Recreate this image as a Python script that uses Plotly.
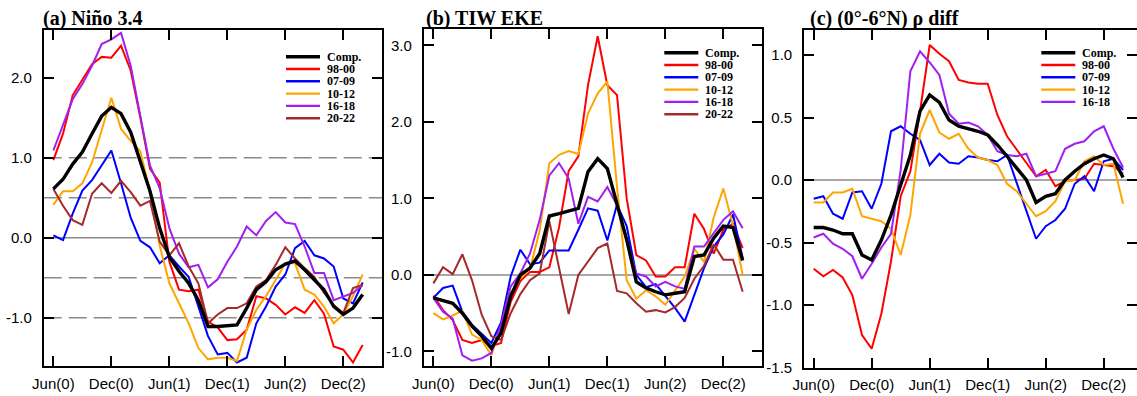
import plotly.graph_objects as go

W, H = 1137, 396

months = ["Jun(0)", "Jul(0)", "Aug(0)", "Sep(0)", "Oct(0)", "Nov(0)", "Dec(0)",
          "Jan(1)", "Feb(1)", "Mar(1)", "Apr(1)", "May(1)", "Jun(1)", "Jul(1)", "Aug(1)",
          "Sep(1)", "Oct(1)", "Nov(1)", "Dec(1)",
          "Jan(2)", "Feb(2)", "Mar(2)", "Apr(2)", "May(2)", "Jun(2)", "Jul(2)", "Aug(2)",
          "Sep(2)", "Oct(2)", "Nov(2)", "Dec(2)", "Jan(3)", "Feb(3)"]
tick_labels = ["Jun(0)", "Dec(0)", "Jun(1)", "Dec(1)", "Jun(2)", "Dec(2)"]

series_names = ["Comp.", "98-00", "07-09", "10-12", "16-18", "20-22"]
series_colors = ["#000000", "#ff0000", "#0000ff", "#ffa500", "#a020f0", "#a52a2a"]

# (a) Nino 3.4
comp_a = [0.61, 0.73, 0.92, 1.07, 1.30, 1.52, 1.63, 1.55, 1.32, 0.95, 0.58, 0.12, -0.24, -0.42, -0.57, -0.78,
          -1.11, -1.11, -1.10, -1.09, -0.88, -0.65, -0.55, -0.40, -0.33, -0.29, -0.40, -0.53, -0.65, -0.86,
          -0.96, -0.88, -0.71]
red_a = [0.97, 1.30, 1.78, 1.97, 2.17, 2.26, 2.25, 2.40, 2.09, 1.50, 0.86, 0.69, -0.30, -0.65, -0.67, -0.65,
         -1.05, -1.12, -1.28, -1.27, -1.15, -0.73, -0.76, -0.84, -0.96, -0.87, -0.94, -0.78, -0.95, -1.36,
         -1.40, -1.56, -1.34]
blue_a = [0.03, -0.03, 0.30, 0.59, 0.72, 0.90, 1.09, 0.68, 0.25, -0.04, -0.12, -0.32, -0.22, -0.36, -0.49, -0.86,
          -1.23, -1.46, -1.44, -1.56, -1.50, -1.07, -0.86, -0.61, -0.46, -0.13, -0.04, -0.22, -0.26, -0.36,
          -0.76, -0.82, -0.56]
orange_a = [0.41, 0.58, 0.58, 0.68, 0.94, 1.36, 1.75, 1.36, 1.21, 1.08, 0.57, -0.10, -0.57, -0.82, -1.07, -1.38,
            -1.52, -1.50, -1.50, -1.54, -1.15, -0.90, -0.73, -0.53, -0.32, -0.32, -0.65, -0.71, -0.86, -1.07,
            -0.96, -0.73, -0.46]
purple_a = [1.09, 1.40, 1.73, 1.92, 2.15, 2.42, 2.48, 2.56, 2.15, 1.52, 0.90, 0.62, 0.12, -0.20, -0.37, -0.34,
            -0.62, -0.52, -0.30, -0.11, 0.14, 0.03, 0.21, 0.32, 0.19, 0.17, -0.11, -0.44, -0.44, -0.78,
            -0.73, -0.69, -0.59]
brown_a = [0.61, 0.40, 0.22, 0.16, 0.55, 0.68, 0.56, 0.71, 0.57, 0.40, 0.46, -0.05, -0.22, -0.07, -0.36, -0.57,
           -1.07, -0.96, -0.88, -0.88, -0.82, -0.61, -0.53, -0.34, -0.12, -0.26, -0.38, -0.49, -0.69, -0.84,
           -0.94, -0.63, -0.59]

# (b) TIW EKE
comp_b = [-0.30, -0.33, -0.37, -0.50, -0.67, -0.80, -0.96, -0.76, -0.28, 0.00, 0.09, 0.28, 0.77, 0.80, 0.83,
          0.87, 1.35, 1.52, 1.39, 0.93, 0.46, -0.09, -0.17, -0.22, -0.26, -0.24, -0.22, 0.24, 0.26, 0.48,
          0.64, 0.62, 0.19]
red_b = [-0.27, -0.46, -0.59, -0.85, -0.89, -0.85, -0.93, -0.89, -0.35, -0.08, 0.04, 0.04, 0.10, 0.62, 1.36,
         1.55, 2.48, 3.12, 2.48, 2.35, 1.00, 0.26, 0.19, -0.02, -0.02, 0.10, 0.10, 0.80, 0.60, 0.28,
         0.59, 0.67, 0.35]
blue_b = [-0.30, -0.17, -0.14, -0.48, -0.65, -0.77, -0.89, -0.62, -0.02, 0.33, 0.14, 0.16, 0.32, 0.32, 0.32,
          0.59, 0.87, 0.84, 0.45, 0.92, 0.64, 0.00, -0.16, -0.12, -0.28, -0.43, -0.61, -0.26, 0.09, 0.37,
          0.53, 0.79, 0.22]
orange_b = [-0.50, -0.58, -0.53, -0.47, -0.78, -0.85, -1.05, -0.68, -0.24, -0.04, 0.08, 0.58, 1.46, 1.57, 1.62,
            1.58, 2.11, 2.37, 2.53, 1.15, -0.07, -0.31, -0.20, -0.28, -0.39, -0.20, -0.02, 0.34, 0.17, 0.75,
            1.13, 0.65, 0.00]
purple_b = [-0.30, -0.48, -0.57, -1.05, -1.12, -1.09, -1.02, -0.65, -0.15, 0.02, 0.28, 0.72, 1.30, 1.46, 1.26,
            0.67, 1.02, 0.96, 1.15, 0.91, 0.45, 0.02, -0.02, -0.15, -0.09, -0.15, -0.18, 0.37, 0.37, 0.54,
            0.72, 0.83, 0.61]
brown_b = [-0.11, 0.10, 0.01, 0.27, -0.07, -0.52, -0.80, -0.85, -0.50, -0.25, -0.07, 0.02, 0.70, 0.11, -0.51,
           0.00, 0.18, 0.35, 0.41, -0.21, -0.24, -0.37, -0.48, -0.46, -0.49, -0.42, -0.30, -0.05, 0.12, 0.40,
           0.20, 0.20, -0.22]

# (c) (0-6N) rho diff
comp_c = [-0.38, -0.38, -0.40, -0.43, -0.43, -0.60, -0.64, -0.48, -0.28, -0.05, 0.20, 0.55, 0.68, 0.62, 0.48,
          0.43, 0.41, 0.39, 0.36, 0.28, 0.19, 0.09, 0.00, -0.18, -0.13, -0.11, 0.00, 0.07, 0.13, 0.17,
          0.20, 0.17, 0.02]
red_c = [-0.71, -0.77, -0.72, -0.78, -0.92, -1.24, -1.35, -1.07, -0.65, -0.13, 0.07, 0.55, 1.08, 1.01, 0.95,
         0.80, 0.78, 0.77, 0.77, 0.52, 0.35, 0.24, 0.13, 0.03, 0.08, -0.05, -0.01, 0.00, 0.01, 0.13,
         0.12, 0.11, 0.05]
blue_c = [-0.15, -0.13, -0.27, -0.31, -0.10, -0.09, -0.23, -0.03, 0.39, 0.43, 0.37, 0.32, 0.12, 0.21, 0.14,
          0.13, 0.19, 0.18, 0.16, 0.15, 0.20, -0.02, -0.24, -0.47, -0.37, -0.32, -0.23, -0.03, 0.03, -0.09,
          0.15, 0.17, 0.08]
orange_c = [-0.18, -0.18, -0.10, -0.10, -0.07, -0.29, -0.31, -0.33, -0.39, -0.60, -0.28, 0.37, 0.56, 0.38, 0.33,
            0.37, 0.25, 0.18, 0.16, 0.12, -0.03, -0.09, -0.19, -0.29, -0.25, -0.17, -0.01, 0.00, 0.15, 0.19,
            0.12, 0.13, -0.19]
purple_c = [-0.46, -0.43, -0.51, -0.55, -0.61, -0.79, -0.67, -0.54, -0.43, 0.08, 0.87, 1.03, 0.94, 0.84, 0.53,
            0.45, 0.46, 0.43, 0.36, 0.23, 0.20, 0.19, 0.21, 0.03, 0.05, 0.07, 0.25, 0.29, 0.31, 0.39,
            0.43, 0.25, 0.10]

panels = [
    dict(title="(a) Niño 3.4", data=[comp_a, red_a, blue_a, orange_a, purple_a, brown_a],
         yrange=[-1.6, 2.6], yticks=[-1.0, 0.0, 1.0, 2.0],
         solid=[0.0], dashed=[-1.0, -0.5, 0.5, 1.0],
         xdom=[43.7, 382.0], xrange=[-1, 34], ydom=[29.7, 365.7],
         title_x=41, leg_x=286, leg_y=56.7),
    dict(title="(b) TIW EKE", data=[comp_b, red_b, blue_b, orange_b, purple_b, brown_b],
         yrange=[-1.19, 3.21], yticks=[-1.0, 0.0, 1.0, 2.0, 3.0],
         solid=[0.0], dashed=[],
         xdom=[423.7, 762.0], xrange=[-1, 34], ydom=[29.3, 366.0],
         title_x=424, leg_x=664.3, leg_y=52.7),
    dict(title="(c) (0°-6°N) ρ diff", data=[comp_c, red_c, blue_c, orange_c, purple_c],
         yrange=[-1.5, 1.2], yticks=[-1.5, -1.0, -0.5, 0.0, 0.5, 1.0],
         solid=[0.0], dashed=[],
         xdom=[804.0, 1137.0], xrange=[-1, 33.44], ydom=[30.0, 367.5],
         title_x=807.5, leg_x=1041.3, leg_y=52.7),
]

fig = go.Figure()
shapes = []
annotations = []
leg_dy = 12.3

for k, p in enumerate(panels):
    sfx = "" if k == 0 else str(k + 1)
    xa, ya = "x" + sfx, "y" + sfx
    # colored series first, composite on top
    order = list(range(1, len(p["data"]))) + [0]
    for j in order:
        fig.add_trace(go.Scatter(
            x=months, y=p["data"][j], mode="lines", name=series_names[j],
            line=dict(color=series_colors[j], width=3.4 if j == 0 else 2.0),
            xaxis=xa, yaxis=ya, showlegend=False, hoverinfo="skip"))
    axis_common = dict(showline=True, linecolor="black", linewidth=1.6, mirror="ticks",
                       ticks="inside", ticklen=10, tickwidth=1.5, tickcolor="black",
                       showgrid=False, zeroline=False, automargin=False,
                       tickfont=dict(family="Liberation Sans, Arial, sans-serif", size=15, color="black"))
    fig.update_layout(**{
        ("xaxis" + sfx): dict(axis_common, type="category", categoryorder="array", categoryarray=months,
                              range=p["xrange"], tickmode="array", tickvals=tick_labels, ticktext=tick_labels,
                              domain=[p["xdom"][0] / W, p["xdom"][1] / W], anchor=ya,
                              ticklabelstandoff=3),
        ("yaxis" + sfx): dict(axis_common, range=p["yrange"], tickmode="array", tickvals=p["yticks"],
                              ticktext=["%.1f" % v for v in p["yticks"]],
                              domain=[1 - p["ydom"][1] / H, 1 - p["ydom"][0] / H], anchor=xa,
                              ticklabelstandoff=7),
    })
    for v in p["solid"]:
        shapes.append(dict(type="line", xref=xa + " domain", yref=ya, x0=0, x1=1, y0=v, y1=v,
                           line=dict(color="#8a8a8a", width=1.6), layer="below"))
    for v in p["dashed"]:
        shapes.append(dict(type="line", xref=xa + " domain", yref=ya, x0=0, x1=1, y0=v, y1=v,
                           line=dict(color="#8a8a8a", width=1.6, dash="18px,7px"), layer="below"))
    # title
    annotations.append(dict(text="<b>" + p["title"] + "</b>", xref="paper", yref="paper",
                            x=p["title_x"] / W, y=1 - 18.5 / H, xanchor="left", yanchor="middle",
                            showarrow=False,
                            font=dict(family="Liberation Serif, Times New Roman, serif", size=20,
                                      color="black")))
    # legend
    for j in range(len(p["data"])):
        yy = 1 - (p["leg_y"] + j * leg_dy) / H
        shapes.append(dict(type="line", xref="paper", yref="paper",
                           x0=p["leg_x"] / W, x1=(p["leg_x"] + 34) / W, y0=yy, y1=yy,
                           line=dict(color=series_colors[j], width=3.6 if j == 0 else 2.4)))
        annotations.append(dict(text="<b>" + series_names[j] + "</b>", xref="paper", yref="paper",
                                x=(p["leg_x"] + 38.5) / W, y=yy, xanchor="left", yanchor="middle",
                                showarrow=False,
                                font=dict(family="Liberation Serif, Times New Roman, serif", size=12,
                                          color="black")))

fig.update_layout(width=W, height=H, margin=dict(l=0, r=0, t=0, b=0, pad=0, autoexpand=False),
                  paper_bgcolor="white", plot_bgcolor="white",
                  shapes=shapes, annotations=annotations, showlegend=False)

fig.write_html("out.html", config={"displayModeBar": False},
               post_script="document.body.style.margin='0';document.body.style.overflow='hidden';")
